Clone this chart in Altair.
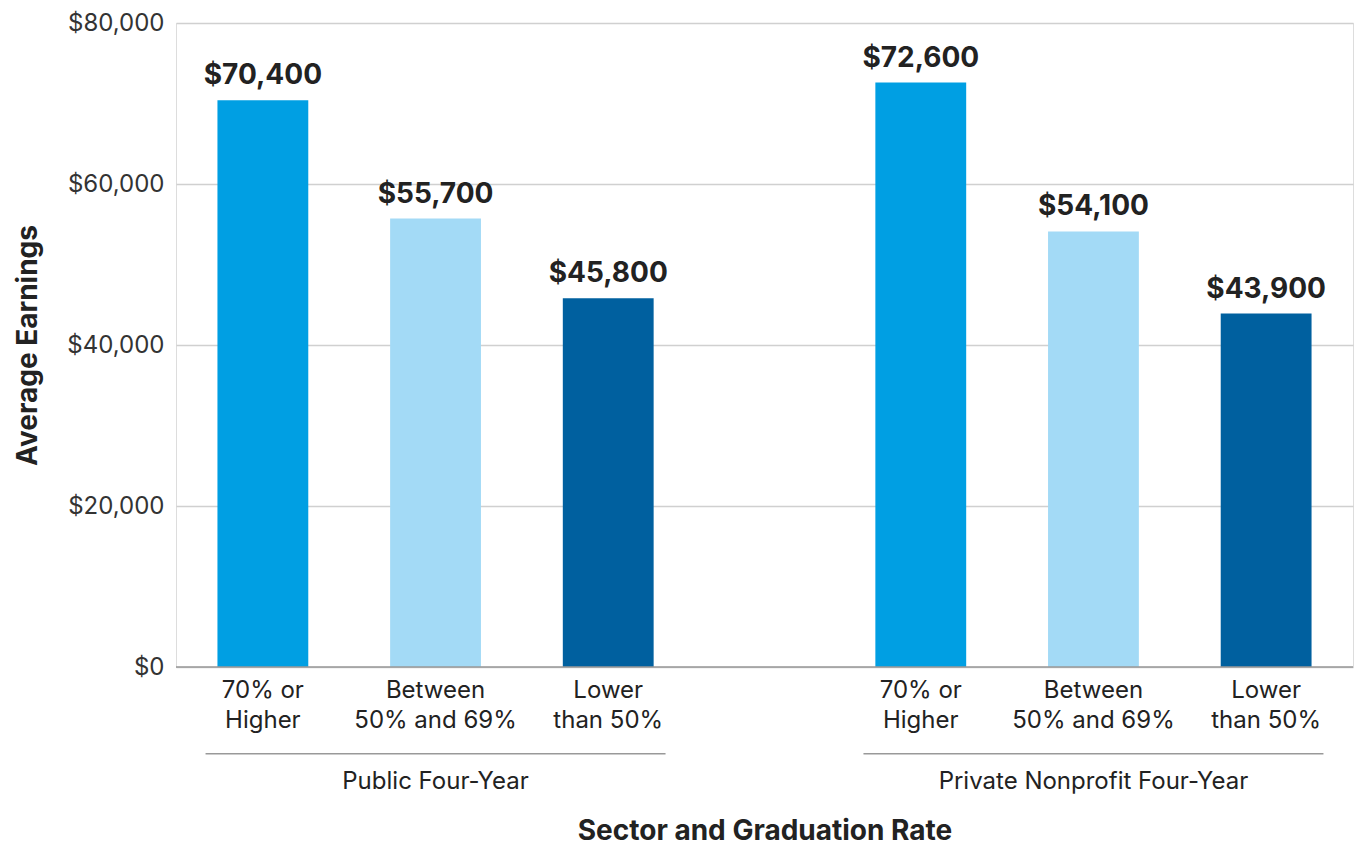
import altair as alt
import pandas as pd

sectors = ["Public Four-Year", "Private Nonprofit Four-Year"]
rates = ["70% or Higher", "Between 50% and 69%", "Lower than 50%"]
rate_labels = ["70% or\nHigher", "Between\n50% and 69%", "Lower\nthan 50%"]
public_values = [70400, 55700, 45800]
private_values = [72600, 54100, 43900]
colors = ["#009FE3", "#A3DAF6", "#00609F"]
y_ticks = [0, 20000, 40000, 60000, 80000]

rows = []
for s, vals in zip(sectors, [public_values, private_values]):
    for r, lab, v in zip(rates, rate_labels, vals):
        rows.append({"sector": s, "rate": r, "rate_label": lab, "value": v})
df = pd.DataFrame(rows)

W, H = 1177, 644
FONT = "Inter"

x_enc = alt.X(
    "sector:N",
    sort=sectors,
    scale=alt.Scale(paddingInner=0.337, paddingOuter=0.063),
    axis=alt.Axis(
        title="Sector and Graduation Rate",
        domain=False,
        ticks=False,
        labelPadding=102,
        labelFontSize=24,
        labelColor="#222",
        labelFont=FONT,
        labelAngle=0,
        labelLimit=0,
        titleFontSize=28,
        titleFont=FONT,
        titleFontWeight="bold",
        titleColor="#222",
        titlePadding=24,
    ),
)
xoff = alt.XOffset(
    "rate:N",
    sort=rates,
    scale=alt.Scale(paddingInner=0.474, paddingOuter=0),
)
y_enc = alt.Y(
    "value:Q",
    scale=alt.Scale(domain=[0, 80000]),
    axis=alt.Axis(
        title="Average Earnings",
        values=y_ticks,
        format="$,.0f",
        domain=False,
        ticks=False,
        grid=True,
        gridColor="#d0d0d0",
        gridWidth=1.5,
        labelFontSize=24,
        labelColor="#333",
        labelFont=FONT,
        labelPadding=12,
        titleFontSize=28,
        titleFont=FONT,
        titleFontWeight="bold",
        titleColor="#222",
        titlePadding=24,
    ),
)

base = alt.Chart(df)

bars = base.mark_bar().encode(
    x=x_enc,
    xOffset=xoff,
    y=y_enc,
    color=alt.Color("rate:N", sort=rates, scale=alt.Scale(domain=rates, range=colors), legend=None),
)

value_text = base.mark_text(
    baseline="bottom", dy=-10, fontSize=28, fontWeight="bold", font=FONT, color="#222"
).encode(
    x=x_enc,
    xOffset=xoff,
    y="value:Q",
    text=alt.Text("value:Q", format="$,.0f"),
)

baseline_rule = alt.Chart(pd.DataFrame({"v": [0]})).mark_rule(color="#999", strokeWidth=1.5).encode(
    y="v:Q"
)

rate_text = base.mark_text(
    baseline="top", lineBreak="\n", lineHeight=30, fontSize=24, font=FONT, color="#222"
).encode(
    x=x_enc,
    xOffset=xoff,
    y=alt.value(H + 12),
    text="rate_label:N",
)

group_line = alt.Chart(pd.DataFrame({"sector": sectors})).mark_bar(width=460, color="#999").encode(
    x=alt.X("sector:N", sort=sectors),
    y=alt.value(H + 86),
    y2=alt.value(H + 87.5),
)

chart = (
    alt.layer(bars, baseline_rule, value_text, rate_text, group_line)
    .properties(width=W, height=H, padding={"left": 6, "top": 3, "right": 0, "bottom": 0})
    .configure_view(stroke=None)
    .configure(font=FONT)
)

chart.save("out.html", embed_options={"renderer": "svg", "actions": False})
